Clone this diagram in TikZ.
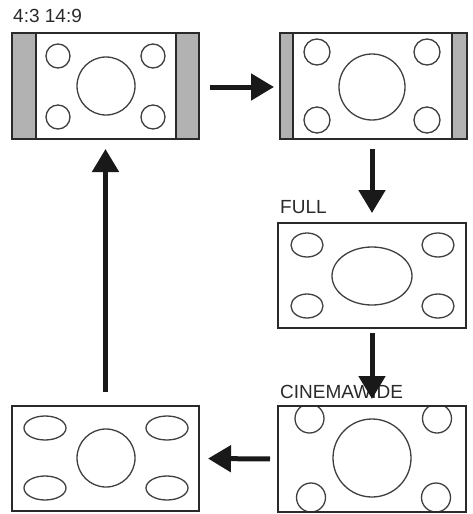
\documentclass[tikz,border=0pt]{standalone}
\usepackage{fontspec}
\setmainfont{Liberation Sans}
\usetikzlibrary{arrows.meta}
\definecolor{ink}{HTML}{2A2A2A}
\definecolor{bar}{HTML}{B2B2B2}
\tikzset{
  screen/.style={draw=ink, line width=2pt, fill=white, rectangle, inner sep=0pt, outer sep=0pt, minimum width=187pt, minimum height=106pt},
  pic shape/.style={draw=ink!90, line width=1.3pt},
  arr/.style={draw=black!90, line width=5pt, -{Triangle[length=23pt,width=26pt]}},
  lbl/.style={anchor=base west, inner sep=0pt, text=ink, font=\fontsize{19}{19}\selectfont}
}
\begin{document}
\begin{tikzpicture}[x=1pt,y=-1pt]
\useasboundingbox (0,0) rectangle (473,514);
% boxes
\node[screen] (b1) at (105.5,86) {};
\node[screen] (b2) at (373.5,86) {};
\node[screen, minimum width=188pt, minimum height=105pt] (b3) at (372,275.5) {};
\node[screen, minimum width=188pt] (b4) at (372,459) {};
\node[screen, minimum height=105pt] (b5) at (105.5,458.5) {};
% box 1: 4:3 with bars
\fill[bar] (12,33) rectangle (36,139);
\fill[bar] (176,33) rectangle (199,139);
\draw[ink, line width=1.3pt] (36,33) -- (36,139) (176,33) -- (176,139);
\draw[pic shape] (58,56) circle (12) (153,56) circle (12) (58,117) circle (12) (153,117) circle (12) (106,86) circle (29);
\draw[ink, line width=2pt] (b1.north west) rectangle (b1.south east);
% box 2: 14:9 with narrower bars
\fill[bar] (279,33) rectangle (293,139);
\fill[bar] (452,33) rectangle (468,139);
\draw[ink, line width=1.3pt] (293,33) -- (293,139) (452,33) -- (452,139);
\draw[pic shape] (317,52) circle (13) (427,52) circle (13) (317,120) circle (13) (427,120) circle (13) (372,87) circle (33);
\draw[ink, line width=2pt] (b2.north west) rectangle (b2.south east);
% box 3: full
\draw[pic shape] (307,245) ellipse (16 and 12) (438,245) ellipse (16 and 12) (307,306) ellipse (16 and 12) (438,306) ellipse (16 and 12) (372,276) ellipse (40 and 29);
% box 4: cinemawide
\begin{scope}
\clip (b4.north west) rectangle (b4.south east);
\draw[pic shape] (309.5,418.5) circle (14.5) (437,418.5) circle (14.5) (311,497.5) circle (14.5) (436,497.5) circle (14.5) (372,458) circle (39);
\end{scope}
\draw[ink, line width=2pt] (b4.north west) rectangle (b4.south east);
% box 5
\draw[pic shape] (45,428) ellipse (21 and 12) (167,428) ellipse (21 and 12) (45,488) ellipse (21 and 12) (167,488) ellipse (21 and 12) (106,458) circle (29);
% labels
\node[lbl] (t1) at (13,23) {4:3 14:9};
\node[lbl] (t3) at (280,213) {FULL};
\node[lbl] (t4) at (280,398) {CINEMAWIDE};
% arrows
\draw[arr, shorten <=11pt, shorten >=6pt] (b1.east |- 0,87) -- (b2.west |- 0,87);
\draw[arr, shorten <=10pt, shorten >=10pt] (b2.south -| b3.north) -- (b3.north);
\draw[arr, shorten <=5pt, shorten >=7pt] (b3.south) -- (b4.north);
\draw[arr, shorten <=8pt, shorten >=9pt] (b4.west) -- (b5.east);
\draw[arr, shorten <=14pt, shorten >=10pt] (b5.north) -- (b1.south);
\end{tikzpicture}
\end{document}
